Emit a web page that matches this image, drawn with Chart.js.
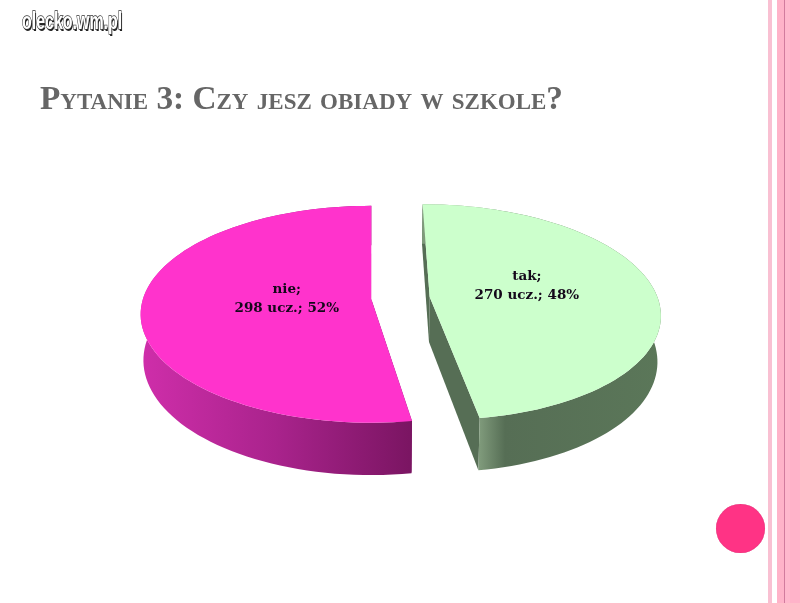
<!DOCTYPE html>
<html lang="pl">
<head>
<meta charset="utf-8">
<style>
html,body{margin:0;padding:0;width:800px;height:603px;overflow:hidden;background:#fff}
#stripes{position:absolute;left:0;top:0;width:800px;height:603px;
background:linear-gradient(90deg,#fff 768px,#f9c0d2 768px,#f9c0d2 771.5px,#fff 771.5px,#fff 777px,#ffb3c9 777px,#ffb3c9 784px,#d27c9e 784px,#d27c9e 785px,#ffb8cd 785px,#ffb8cd 790px,#ffb3c9 790px,#ffb3c9 800px)}
#dot{position:absolute;left:716px;top:504px;width:49px;height:49px;border-radius:50%;background:#ff3385;box-shadow:inset 0 0 1px #c0306a}
canvas{position:absolute;left:0;top:0}
</style>
<script src="https://cdn.jsdelivr.net/npm/chart.js@4"></script>
</head>
<body>
<div id="stripes"></div>
<div id="dot"></div>
<canvas id="c" width="800" height="603"></canvas>
<script>
const categories = ["tak", "nie"];
const pupils = [270, 298];
const percents = [48, 52];
const topColors = ["#ccffcc", "#ff33cc"];
const titleText = "Pytanie 3: Czy jesz obiady w szkole?";
const logoText = "olecko.wm.pl";

// perspective view of the flat pie
const view = {x0:372, cy:298, A:228, B:106, p:0.14, shift:28.5, H:45, shrink:0.988};
function project(X, Y, depth) {
  const s = 1 / (1 - view.p * Y);
  let x = view.x0 + (view.A * X + view.shift) * s;
  let y = view.cy + view.B * Y * s;
  if (depth) {
    x = view.x0 + (x - view.x0) * view.shrink;
    y += view.H * s;
  }
  return [x, y];
}
function geometry(el) {
  const mid = (el.startAngle + el.endAngle) / 2;
  const o = el.options.offset / el.outerRadius;
  const ax = Math.cos(mid) * o, ay = Math.sin(mid) * o;
  const pts = [];
  const n = 90;
  for (let i = 0; i <= n; i++) {
    const a = el.startAngle + (el.endAngle - el.startAngle) * i / n;
    pts.push([ax + Math.cos(a), ay + Math.sin(a)]);
  }
  return {mid, ax, ay, pts};
}
function poly(ctx, list) {
  ctx.beginPath();
  list.forEach((p, i) => i ? ctx.lineTo(p[0], p[1]) : ctx.moveTo(p[0], p[1]));
  ctx.closePath();
}
const rimStops = [
  [[0, "#7f9a7b"], [0.14, "#566e55"], [1, "#5b7759"]],
  [[0, "#cf2eaa"], [0.5, "#a9238c"], [1, "#7a1562"]]
];
const cutColors = ["#566e55", "#7a1562"];

const pie3d = {
  id: "pie3d",
  beforeDatasetsDraw(chart) {
    const ctx = chart.ctx;
    const els = chart.getDatasetMeta(0).data;
    els.forEach((el, i) => {
      const g = geometry(el);
      const apexT = project(g.ax, g.ay, false), apexB = project(g.ax, g.ay, true);
      const top = g.pts.map(p => project(p[0], p[1], false));
      const bot = g.pts.map(p => project(p[0], p[1], true));
      // cut faces
      ctx.fillStyle = cutColors[i];
      poly(ctx, [apexT, top[0], bot[0], apexB]); ctx.fill();
      poly(ctx, [apexT, top[top.length - 1], bot[bot.length - 1], apexB]); ctx.fill();
      // rim
      const front = top.map((p, k) => ({p, Y: g.pts[k][1]})).filter(q => q.Y > 0);
      const xs = front.map(q => q.p[0]);
      const grad = ctx.createLinearGradient(Math.min(...xs), 0, Math.max(...xs), 0);
      rimStops[i].forEach(s => grad.addColorStop(s[0], s[1]));
      ctx.fillStyle = grad;
      poly(ctx, top.concat(bot.slice().reverse())); ctx.fill();
    });
    els.forEach((el, i) => {
      const g = geometry(el);
      ctx.fillStyle = topColors[i];
      poly(ctx, [project(g.ax, g.ay, false)].concat(g.pts.map(p => project(p[0], p[1], false))));
      ctx.fill();
    });
    return false;
  },
  afterDraw(chart) {
    const ctx = chart.ctx;
    ctx.save();
    ctx.textAlign = "center";
    ctx.textBaseline = "middle";
    ctx.font = 'bold 13.5px "DejaVu Serif"';
    ctx.fillStyle = "#14081a";
    chart.getDatasetMeta(0).data.forEach((el, i) => {
      const g = geometry(el);
      const r = 0.4;
      const c = project(g.ax + Math.cos(g.mid) * r, g.ay + Math.sin(g.mid) * r, false);
      const cy = c[1] + Math.sin(g.mid) * 28;
      ctx.fillText(categories[i] + ";", c[0] + 7, cy - 15.5);
      ctx.fillText(pupils[i] + " ucz.; " + percents[i] + "%", c[0] + 7, cy + 4);
    });
    // logo
    ctx.textAlign = "left";
    ctx.textBaseline = "alphabetic";
    ctx.font = 'bold 24px "Liberation Sans Narrow","Liberation Sans"';
    ctx.save();
    ctx.translate(22, 29);
    ctx.scale(0.665, 1);
    ctx.fillStyle = "#222";
    ctx.fillText(logoText, 1.5, 1.5);
    ctx.strokeStyle = "#333";
    ctx.lineWidth = 1.4;
    ctx.strokeText(logoText, 0, 0);
    ctx.fillStyle = "#fff";
    ctx.fillText(logoText, 0, 0);
    ctx.restore();
    ctx.restore();
  }
};

new Chart(document.getElementById("c"), {
  type: "pie",
  data: {
    labels: categories,
    datasets: [{data: pupils, backgroundColor: topColors, borderWidth: 0, offset: 28}]
  },
  options: {
    responsive: false,
    animation: false,
    layout: {padding: {left: 40, top: 80, right: 40, bottom: 10}},
    plugins: {
      legend: {display: false},
      tooltip: {enabled: false},
      title: {
        display: true, text: titleText, align: "start", color: "#666666",
        font: {family: '"Liberation Serif"', size: 33.3, weight: "small-caps bold"},
        padding: {top: 0, bottom: 10}
      }
    }
  },
  plugins: [pie3d]
});
</script>
</body>
</html>
